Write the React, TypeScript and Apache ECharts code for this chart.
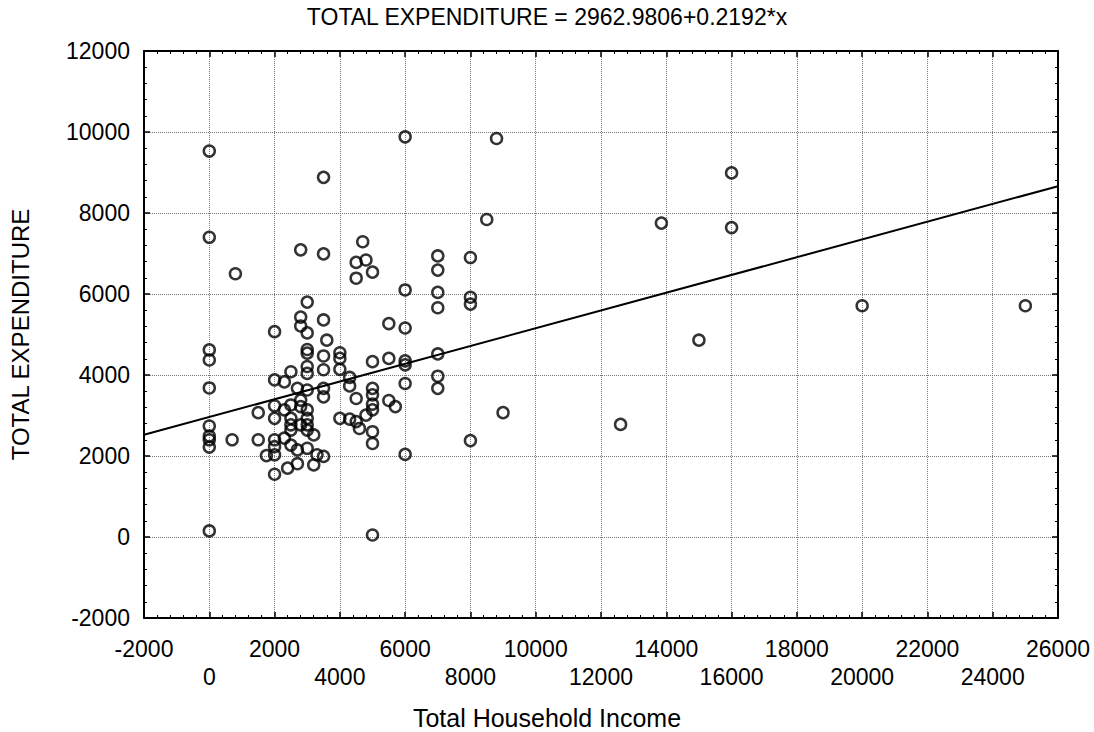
import React, { useEffect, useRef } from "react";
import * as echarts from "echarts";

const TITLE = "TOTAL EXPENDITURE = 2962.9806+0.2192*x";
const X_NAME = "Total Household Income";
const Y_NAME = "TOTAL EXPENDITURE";
const INTERCEPT = 2962.9806;
const SLOPE = 0.2192;
const X_MIN = -2000;
const X_MAX = 26000;
const Y_MIN = -2000;
const Y_MAX = 12000;
const TICK_STEP = 2000;

const incomes: number[] = [
  0, 0, 0, 0, 0, 0, 0, 0, 0, 0,
  800, 700, 1500, 1500, 1750,
  2000, 2000, 2000, 2000, 2000, 2000, 2000, 2000,
  2300, 2300, 2300, 2400,
  2500, 2500, 2500, 2500, 2500, 2500,
  2700, 2700, 2700,
  2800, 2800, 2800, 2800, 2800, 2800,
  3000, 3000, 3000, 3000, 3000, 3000, 3000, 3000, 3000, 3000, 3000, 3000,
  3200, 3200, 3300,
  3500, 3500, 3500, 3500, 3500, 3500, 3500, 3500,
  3600,
  4000, 4000, 4000, 4000,
  4300, 4300, 4300,
  4500, 4500, 4500, 4500, 4600, 4700, 4800, 4800,
  5000, 5000, 5000, 5000, 5000, 5000, 5000, 5000, 5000,
  5500, 5500, 5500, 5700,
  6000, 6000, 6000, 6000, 6000, 6000, 6000,
  7000, 7000, 7000, 7000, 7000, 7000, 7000,
  8000, 8000, 8000, 8000,
  8500, 8800, 9000, 12600, 13850, 15000, 16000, 16000, 20000, 25000,
];

const expenditures: number[] = [
  9530, 7400, 4620, 4370, 3680, 2740, 2490, 2400, 2220, 150,
  6500, 2400, 3070, 2400, 2010,
  5070, 3880, 3240, 2930, 2400, 2230, 2030, 1550,
  3830, 3140, 2440, 1700,
  4080, 3260, 2930, 2770, 2640, 2270,
  3670, 2150, 1810,
  7090, 5430, 5210, 3380, 3220, 2770,
  5800, 5040, 4630, 4540, 4210, 4040, 3630, 3140, 2930, 2770, 2640, 2190,
  2520, 1780, 2030,
  8880, 6990, 5360, 4470, 4130, 3670, 3460, 1990,
  4860,
  4550, 4410, 4140, 2930,
  3940, 3730, 2910,
  6780, 6390, 3420, 2850, 2680, 7290, 6840, 3010,
  6540, 4330, 3670, 3510, 3280, 3140, 2600, 2310, 50,
  5270, 4410, 3370, 3220,
  9880, 6100, 5160, 4350, 4250, 3790, 2040,
  6940, 6590, 6040, 5660, 4520, 3970, 3670,
  6900, 5920, 5750, 2380,
  7840, 9840, 3070, 2780, 7750, 4860, 8990, 7640, 5710, 5710,
];

const FONT = "'Liberation Sans', Arial, sans-serif";

export default function App() {
  const ref = useRef<HTMLDivElement>(null);
  useEffect(() => {
    if (!ref.current) return;
    const chart = echarts.init(ref.current, null, { renderer: "svg" });
    const points = incomes.map((x, i) => [x, expenditures[i]]);
    const fitLine = [
      [X_MIN, INTERCEPT + SLOPE * X_MIN],
      [X_MAX, INTERCEPT + SLOPE * X_MAX],
    ];
    const axisCommon = {
      type: "value",
      interval: TICK_STEP,
      axisLine: { show: true, onZero: false, lineStyle: { color: "#000", width: 2 } },
      axisTick: { show: true, inside: true, length: 6, lineStyle: { color: "#000", width: 1.5 } },
      minorTick: { show: true, splitNumber: 5, length: 3, lineStyle: { color: "#000", width: 1 } },
    };
    chart.setOption({
      animation: false,
      backgroundColor: "#fff",
      title: [
        {
          text: TITLE,
          left: "center",
          top: 0,
          textStyle: { fontFamily: FONT, fontSize: 23, fontWeight: "normal", color: "#000" },
        },
        {
          text: X_NAME,
          left: "center",
          top: 700,
          textStyle: { fontFamily: FONT, fontSize: 25, fontWeight: "normal", color: "#000" },
        },
      ],
      grid: { left: 143, right: 36, top: 51, bottom: 114, containLabel: false },
      xAxis: [
        {
          ...axisCommon,
          min: X_MIN,
          max: X_MAX,
          position: "bottom",
          splitLine: { show: true, lineStyle: { color: "#777", type: "dotted", width: 1 } },
          axisLabel: {
            show: true,
            margin: 17,
            color: "#000",
            fontFamily: FONT,
            fontSize: 23,
            lineHeight: 28,
            formatter: (v: number) => ((v / TICK_STEP) % 2 === 0 ? "\n" + v : String(v)),
          },
        },
        {
          ...axisCommon,
          min: X_MIN,
          max: X_MAX,
          position: "top",
          splitLine: { show: false },
          axisLabel: { show: false },
        },
      ],
      yAxis: [
        {
          ...axisCommon,
          min: Y_MIN,
          max: Y_MAX,
          position: "left",
          name: Y_NAME,
          nameLocation: "middle",
          nameGap: 112,
          nameTextStyle: { fontFamily: FONT, fontSize: 24, color: "#000" },
          splitLine: { show: true, lineStyle: { color: "#777", type: "dotted", width: 1 } },
          axisLabel: {
            show: true,
            margin: 14,
            color: "#000",
            fontFamily: FONT,
            fontSize: 23,
            formatter: (v: number) => String(v),
          },
        },
        {
          ...axisCommon,
          min: Y_MIN,
          max: Y_MAX,
          position: "right",
          splitLine: { show: false },
          axisLabel: { show: false },
        },
      ],
      series: [
        {
          type: "scatter",
          data: points,
          symbol: "circle",
          symbolSize: 11,
          itemStyle: { color: "rgba(0,0,0,0)", borderColor: "#000", borderWidth: 2.5 },
          z: 3,
        },
        {
          type: "line",
          data: fitLine,
          symbol: "none",
          lineStyle: { color: "#000", width: 2 },
          z: 2,
        },
      ],
    });
    return () => chart.dispose();
  }, []);
  return (
    <div
      ref={ref}
      style={{ position: "absolute", left: 0, top: 0, width: 1094, height: 732 }}
    />
  );
}
